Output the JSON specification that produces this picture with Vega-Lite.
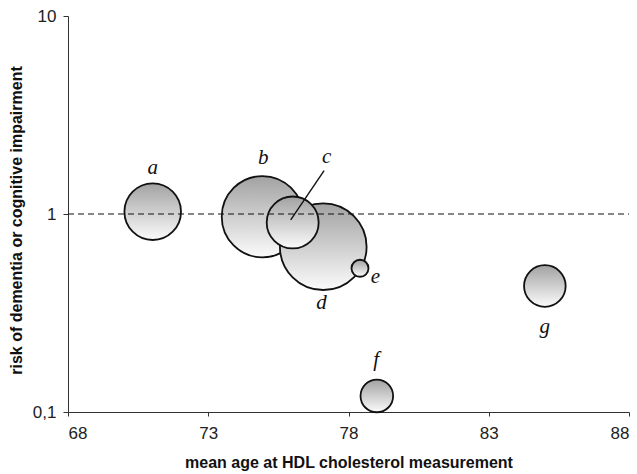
{
  "$schema": "https://vega.github.io/schema/vega-lite/v6.json",
  "width": 561,
  "height": 396,
  "autosize": "none",
  "padding": {"left": 68, "top": 16, "right": 8, "bottom": 62},
  "background": "white",
  "config": {
    "view": {"stroke": null},
    "axis": {
      "grid": false,
      "domainColor": "#333333",
      "tickColor": "#333333",
      "labelFont": "Liberation Sans",
      "labelFontSize": 17,
      "labelColor": "#222222",
      "titleFont": "Liberation Sans",
      "titleFontSize": 16,
      "titleFontWeight": "bold",
      "titleColor": "#111111"
    }
  },
  "datasets": {
    "studies": [
      {"study": "a", "age": 71.02, "risk": 1.027, "n": 3200},
      {"study": "b", "age": 74.93, "risk": 0.969, "n": 6610},
      {"study": "d", "age": 77.10, "risk": 0.684, "n": 7510},
      {"study": "c", "age": 76.01, "risk": 0.906, "n": 2700},
      {"study": "e", "age": 78.41, "risk": 0.532, "n": 289},
      {"study": "f", "age": 79.01, "risk": 0.1205, "n": 1063},
      {"study": "g", "age": 85.0, "risk": 0.433, "n": 1731}
    ],
    "labels": [
      {"label": "a", "age": 71.02, "risk": 1.70},
      {"label": "b", "age": 74.96, "risk": 1.91},
      {"label": "c", "age": 77.22, "risk": 1.95},
      {"label": "d", "age": 77.04, "risk": 0.356},
      {"label": "e", "age": 78.96, "risk": 0.482},
      {"label": "f", "age": 78.99, "risk": 0.183},
      {"label": "g", "age": 85.0, "risk": 0.270}
    ],
    "leader": [
      {"age": 75.94, "risk": 0.933, "age2": 77.13, "risk2": 1.654}
    ],
    "reference": [
      {"age": 68, "age2": 88, "risk": 1}
    ]
  },
  "encoding": {
    "x": {
      "field": "age",
      "type": "quantitative",
      "scale": {"domain": [68, 88], "nice": false, "zero": false},
      "axis": {
        "title": "mean age at HDL cholesterol measurement",
        "values": [68, 73, 78, 83, 88],
        "tickSize": 4,
        "labelPadding": 9,
        "titlePadding": 13
      }
    },
    "y": {
      "field": "risk",
      "type": "quantitative",
      "scale": {"type": "log", "domain": [0.1, 10], "nice": false},
      "axis": {
        "title": "risk of dementia or cognitive impairment",
        "values": [0.1, 1, 10],
        "format": "~g",
        "labelExpr": "replace(datum.label, '.', ',')",
        "tickSize": 5,
        "labelPadding": 7,
        "titlePadding": 8,
        "titleY": 204
      }
    }
  },
  "layer": [
    {
      "data": {"name": "studies"},
      "mark": {
        "type": "point",
        "shape": "circle",
        "filled": true,
        "opacity": 1,
        "fillOpacity": 1,
        "strokeOpacity": 1,
        "fill": {
          "gradient": "linear",
          "x1": 0, "y1": 0, "x2": 0, "y2": 1,
          "stops": [
            {"offset": 0, "color": "#a2a2a2"},
            {"offset": 1, "color": "#fbfbfb"}
          ]
        },
        "stroke": "#111111",
        "strokeWidth": 1.8
      },
      "encoding": {
        "size": {
          "field": "n",
          "type": "quantitative",
          "scale": {"type": "linear", "domain": [0, 10000], "range": [0, 10000]},
          "legend": null
        }
      }
    },
    {
      "data": {"name": "reference"},
      "mark": {"type": "rule", "strokeDash": [6, 4], "color": "#111111", "strokeWidth": 1.2},
      "encoding": {
        "x2": {"field": "age2"}
      }
    },
    {
      "data": {"name": "leader"},
      "mark": {"type": "rule", "color": "#111111", "strokeWidth": 1.4},
      "encoding": {
        "x2": {"field": "age2"},
        "y2": {"field": "risk2"}
      }
    },
    {
      "data": {"name": "labels"},
      "mark": {
        "type": "text",
        "font": "Liberation Serif",
        "fontStyle": "italic",
        "fontSize": 21,
        "align": "center",
        "baseline": "middle",
        "color": "#111111"
      },
      "encoding": {
        "text": {"field": "label", "type": "nominal"}
      }
    }
  ]
}
